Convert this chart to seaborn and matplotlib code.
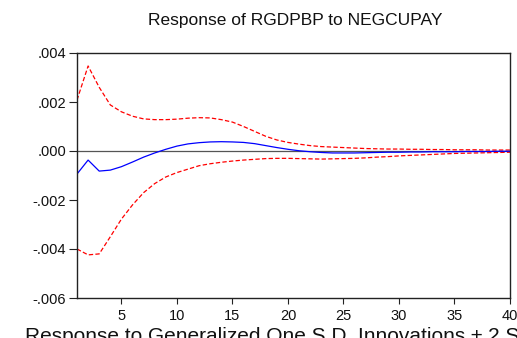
import matplotlib
matplotlib.use("Agg")
import matplotlib.pyplot as plt
import seaborn as sns
import pandas as pd
import numpy as np

periods = list(range(1, 41))
response = [-0.00094, -0.00037, -0.00082, -0.00078, -0.00064, -0.00045, -0.00025, -0.00008,
            0.00007, 0.00020, 0.00029, 0.00034, 0.00037, 0.00038, 0.00037, 0.00035,
            0.00030, 0.00022, 0.00014, 0.00007, 0.00001, -0.00003, -0.00006, -0.00008,
            -0.00008, -0.00008, -0.00007, -0.00006, -0.00005, -0.00005, -0.00004, -0.00004,
            -0.00003, -0.00003, -0.00003, -0.00002, -0.00002, -0.00002, -0.00001, -0.00001]
upper = [0.00208, 0.00347, 0.00260, 0.00188, 0.00160, 0.00142, 0.00131, 0.00128,
         0.00128, 0.00130, 0.00134, 0.00136, 0.00135, 0.00128, 0.00118, 0.00100,
         0.00080, 0.00060, 0.00045, 0.00035, 0.00028, 0.00022, 0.00018, 0.00016,
         0.00014, 0.00012, 0.00010, 0.00009, 0.00008, 0.00008, 0.00007, 0.00007,
         0.00006, 0.00006, 0.00005, 0.00005, 0.00005, 0.00004, 0.00004, 0.00004]
lower = [-0.00400, -0.00424, -0.00420, -0.00350, -0.00278, -0.00220, -0.00170, -0.00133,
         -0.00106, -0.00088, -0.00074, -0.00060, -0.00052, -0.00046, -0.00041, -0.00037,
         -0.00034, -0.00031, -0.00030, -0.00030, -0.00031, -0.00032, -0.00033, -0.00032,
         -0.00031, -0.00030, -0.00028, -0.00025, -0.00023, -0.00020, -0.00018, -0.00016,
         -0.00014, -0.00012, -0.00010, -0.00009, -0.00008, -0.00007, -0.00006, -0.00005]

yticks = [0.004, 0.002, 0.000, -0.002, -0.004, -0.006]
ytick_labels = [".004", ".002", ".000", "-.002", "-.004", "-.006"]
xticks = [5, 10, 15, 20, 25, 30, 35, 40]

title = "Response of RGDPBP to NEGCUPAY"
footer = "Response to Generalized One S.D. Innovations \u00b1 2 S.E."

df = pd.DataFrame({"period": periods, "response": response, "upper": upper, "lower": lower})

sns.set_style("white")
plt.rcParams["font.family"] = ["Liberation Sans", "DejaVu Sans"]

fig = plt.figure(figsize=(5.17, 3.38), dpi=100)
ax = fig.add_axes([77/517, 40/338, 433/517, 245/338])

ax.axhline(0, color="#555555", lw=0.9, zorder=1)
sns.lineplot(data=df, x="period", y="upper", ax=ax, color="red", lw=0.9, linestyle=(0, (3.5, 1.8)))
sns.lineplot(data=df, x="period", y="lower", ax=ax, color="red", lw=0.9, linestyle=(0, (3.5, 1.8)))
sns.lineplot(data=df, x="period", y="response", ax=ax, color="blue", lw=0.9)

ax.set_xlim(1, 40)
ax.set_ylim(-0.006, 0.004)
ax.set_xticks(xticks)
ax.set_xticklabels([str(t) for t in xticks])
ax.set_yticks(yticks)
ax.set_yticklabels(ytick_labels)
ax.set_xlabel("")
ax.set_ylabel("")
for s in ax.spines.values():
    s.set_color("#222222")
    s.set_linewidth(1.0)
ax.tick_params(axis="both", direction="out", width=0.8, color="#222222",
               labelsize=10.5, labelcolor="#111111")
ax.tick_params(axis="x", length=4, pad=4, bottom=True)
ax.tick_params(axis="y", length=6, pad=2, left=True)

fig.text(295/517, 1 - 20/338, title, ha="center", va="center", fontsize=12.5, color="#111111")
fig.text(25/517, 1 - 327/338, footer, ha="left", va="top", fontsize=15, color="#111111")

fig.savefig("out.png", dpi=100)
